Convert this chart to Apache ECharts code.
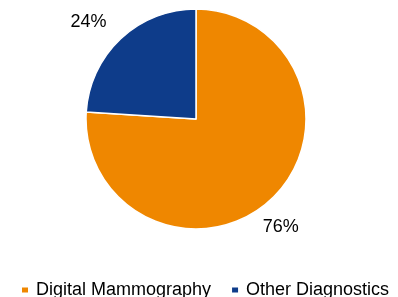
<!DOCTYPE html>
<html>
<head>
<meta charset="utf-8">
<script src="https://cdn.jsdelivr.net/npm/echarts@6/dist/echarts.min.js"></script>
<style>
  html, body { margin: 0; padding: 0; background: #fff; }
  #chart { width: 398px; height: 297px; }
</style>
</head>
<body>
<div id="chart"></div>
<script>
var categories = ['Digital Mammography', 'Other Diagnostics'];
var shares = [76, 24];
var colors = ['#EF8700', '#0E3C8A'];

var CX = 196, CY = 119, R = 110;
// label placement (best-fit style): angle tweak in degrees, distance from centre
var labelTurn = [5, -4.6];
var labelDist = [137, 145];

var chart = echarts.init(document.getElementById('chart'));

var pieData = categories.map(function (name, i) {
  return { name: name, value: shares[i], itemStyle: { color: colors[i] } };
});

chart.setOption({
  animation: false,
  legend: {
    left: 20,
    top: 281,
    padding: 0,
    itemWidth: 8,
    itemHeight: 7,
    itemGap: 19,
    icon: 'rect',
    textStyle: {
      fontFamily: 'Liberation Sans',
      fontSize: 18,
      color: '#000',
      padding: [0, 0, 0, 2]
    },
    data: categories
  },
  series: [{
    type: 'pie',
    center: [CX, CY],
    radius: R,
    startAngle: 90,
    clockwise: true,
    itemStyle: { borderColor: '#fff', borderWidth: 1.5 },
    label: {
      show: true,
      position: 'outside',
      formatter: '{d}%',
      fontFamily: 'Liberation Sans',
      fontSize: 18,
      color: '#000'
    },
    labelLine: { show: false, length: 20, length2: 0 },
    labelLayout: function (p) {
      var pts = p.labelLinePoints;
      if (!pts) return {};
      var a = Math.atan2(pts[0][1] - CY, pts[0][0] - CX);
      a += labelTurn[p.dataIndex] * Math.PI / 180;
      var d = labelDist[p.dataIndex];
      return {
        x: CX + Math.cos(a) * d,
        y: CY + Math.sin(a) * d,
        align: 'center',
        verticalAlign: 'middle'
      };
    },
    data: pieData
  }]
});
</script>
</body>
</html>
